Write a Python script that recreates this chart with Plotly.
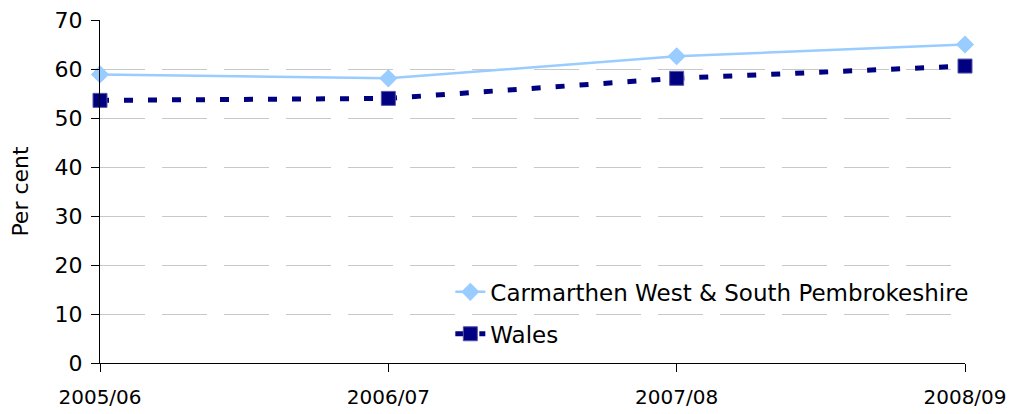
import plotly.graph_objects as go

years = ["2005/06", "2006/07", "2007/08", "2008/09"]
carmarthen = [58.9, 58.1, 62.6, 65.0]
wales = [53.6, 54.0, 58.1, 60.6]
y_ticks = [0, 10, 20, 30, 40, 50, 60, 70]

font_family = "DejaVu Sans"

fig = go.Figure()
fig.add_trace(go.Scatter(
    x=years, y=carmarthen, name="Carmarthen West & South Pembrokeshire",
    mode="lines+markers", legendgroup="a",
    line=dict(color="#99CCFF", width=2.5),
    marker=dict(symbol="diamond", size=14, color="#99CCFF"),
    cliponaxis=False,
))
fig.add_trace(go.Scatter(
    x=years, y=wales, name="Wales",
    mode="lines+markers", legendgroup="b",
    line=dict(color="#000080", width=5, dash="9px,15px"),
    marker=dict(symbol="square", size=14, color="#000080",
                line=dict(color="#5555AA", width=1)),
    cliponaxis=False,
))

fig.update_layout(
    width=1010, height=406,
    margin=dict(l=92, r=53, t=12, b=51, autoexpand=False),
    paper_bgcolor="white", plot_bgcolor="white",
    font=dict(family=font_family, size=22, color="black"),
    showlegend=True,
    legend=dict(x=0.405, y=0.146, xanchor="left", yanchor="middle",
                bgcolor="rgba(0,0,0,0)", font=dict(size=23),
                tracegroupgap=9, traceorder="grouped"),
    xaxis=dict(
        type="category", range=[0, 3], automargin=False,
        showline=True, linecolor="black", linewidth=1,
        ticks="outside", ticklen=8, tickcolor="black",
        showgrid=False, zeroline=False,
        tickfont=dict(size=20), ticklabelstandoff=8,
        ticklabeloverflow="allow",
    ),
    yaxis=dict(
        range=[0, 70], tickvals=y_ticks, automargin=False,
        showline=True, linecolor="black", linewidth=1,
        ticks="outside", ticklen=8, tickcolor="black",
        showgrid=True, gridcolor="#C8C8C8", gridwidth=1, griddash="45px,17px",
        zeroline=False,
        title=dict(text="Per cent", font=dict(size=22), standoff=21),
        tickfont=dict(size=22), ticklabelstandoff=4,
        ticklabeloverflow="allow",
    ),
)

fig.write_html("out.html")
